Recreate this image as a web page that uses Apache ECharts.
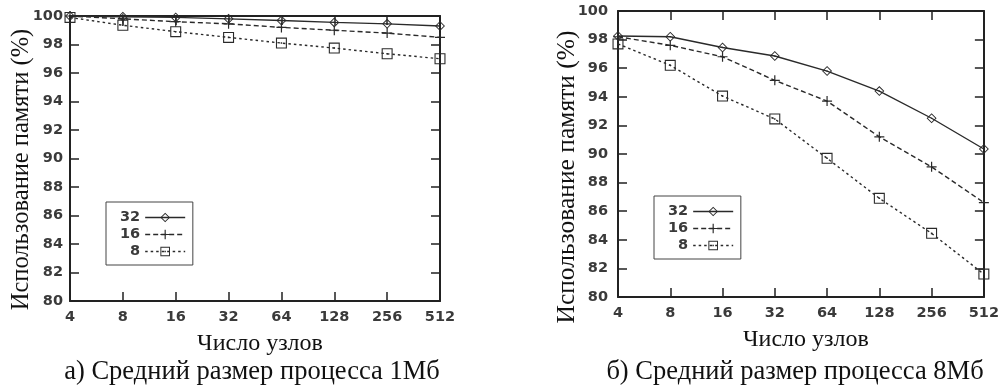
<!DOCTYPE html>
<html>
<head>
<meta charset="utf-8">
<script src="https://cdn.jsdelivr.net/npm/echarts@6/dist/echarts.min.js"></script>
<style>
  html, body { margin: 0; padding: 0; background: #fff; }
  #chart { width: 1002px; height: 388px; }
</style>
</head>
<body>
<div id="chart"></div>
<script>
// Number of nodes (log2 scale, drawn as evenly spaced categories)
const nodes = ['4', '8', '16', '32', '64', '128', '256', '512'];
const yTicks = { min: 80, max: 100, step: 2 };

// Memory utilisation (%) — average process size 1 MB
const mb1_32 = [100, 99.95, 99.9, 99.8, 99.68, 99.55, 99.45, 99.3];
const mb1_16 = [100, 99.8, 99.6, 99.45, 99.2, 99.0, 98.8, 98.5];
const mb1_8  = [99.9, 99.35, 98.9, 98.5, 98.1, 97.75, 97.35, 97.0];

// Memory utilisation (%) — average process size 8 MB
const mb8_32 = [98.25, 98.2, 97.45, 96.85, 95.8, 94.4, 92.5, 90.35];
const mb8_16 = [98.2, 97.6, 96.8, 95.15, 93.7, 91.2, 89.1, 86.6];
const mb8_8  = [97.7, 96.2, 94.05, 92.45, 89.7, 86.9, 84.45, 81.6];

const seriesNames = ['32', '16', '8'];
const yName = 'Использование памяти (%)';
const xName = 'Число узлов';
const captions = ['а) Средний размер процесса 1Мб', 'б) Средний размер процесса 8Мб'];

// gnuplot-like point shapes
const DIAMOND = 'path://M5,0L10,5L5,10L0,5Z M5,1.3L1.3,5L5,8.7L8.7,5Z M4.4,4.4H5.6V5.6H4.4Z';
const PLUS = 'path://M0,4.4H10V5.6H0Z M4.4,0H5.6V10H4.4Z';
const BOX = 'path://M0,0H10V10H0Z M1,1V9H9V1Z M4.3,4.3H5.7V5.7H4.3Z';

const INK = '#222';
const LABEL = '#3a3a3a';
const serif = '"Liberation Serif", "DejaVu Serif", serif';
const sans = '"DejaVu Sans", sans-serif';

const styles = [
  { symbol: DIAMOND, size: 10, type: 'solid' },
  { symbol: PLUS, size: 10, type: [5, 3] },
  { symbol: BOX, size: 11, type: [2.5, 3] }
];

const grids = [
  { left: 70, top: 16, width: 370, height: 285 },
  { left: 618, top: 11, width: 369, height: 286 }
];

function xAxes(gi) {
  return [
    {
      type: 'category', gridIndex: gi, data: nodes, boundaryGap: false, position: 'bottom',
      axisLine: { lineStyle: { color: INK, width: 2 } },
      axisTick: { inside: true, length: 9, lineStyle: { color: INK, width: 1.5 } },
      axisLabel: { color: LABEL, fontFamily: sans, fontWeight: 'bold', fontSize: 14.5, margin: 9 },
      splitLine: { show: false },
      name: xName, nameLocation: 'middle', nameGap: 31, nameMoveOverlap: false,
      nameTextStyle: { fontFamily: serif, fontSize: 24, color: '#111', padding: [0, 0, 0, 10] }
    },
    {
      type: 'category', gridIndex: gi, data: nodes, boundaryGap: false, position: 'top',
      axisLine: { lineStyle: { color: INK, width: 2 } },
      axisTick: { inside: true, length: 9, lineStyle: { color: INK, width: 1.5 } },
      axisLabel: { show: false },
      splitLine: { show: false }
    }
  ];
}

function yAxes(gi, gap, pad, labelMargin, fs) {
  return [
    {
      type: 'value', gridIndex: gi, position: 'left',
      min: yTicks.min, max: yTicks.max, interval: yTicks.step,
      axisLine: { show: true, lineStyle: { color: INK, width: 2 } },
      axisTick: { show: true, inside: true, length: 9, lineStyle: { color: INK, width: 1.5 } },
      axisLabel: { color: LABEL, fontFamily: sans, fontWeight: 'bold', fontSize: 14.5, margin: labelMargin },
      splitLine: { show: false },
      name: yName, nameLocation: 'middle', nameRotate: 90, nameGap: gap, nameMoveOverlap: false,
      nameTextStyle: { fontFamily: serif, fontSize: fs, color: '#111', padding: pad }
    },
    {
      type: 'value', gridIndex: gi, position: 'right',
      min: yTicks.min, max: yTicks.max, interval: yTicks.step,
      axisLine: { show: true, lineStyle: { color: INK, width: 2 } },
      axisTick: { show: true, inside: true, length: 9, lineStyle: { color: INK, width: 1.5 } },
      axisLabel: { show: false },
      splitLine: { show: false }
    }
  ];
}

function makeSeries(gi, valuesList) {
  return valuesList.map((vals, i) => ({
    name: seriesNames[i],
    type: 'line',
    xAxisIndex: gi * 2,
    yAxisIndex: gi * 2,
    data: vals,
    symbol: styles[i].symbol,
    symbolSize: styles[i].size,
    clip: false,
    lineStyle: { color: '#2a2a2a', width: 1.4, type: styles[i].type },
    itemStyle: { color: '#2a2a2a' },
    emphasis: { disabled: true },
    z: 3 - i
  }));
}

function makeLegend(left, top) {
  return {
    orient: 'vertical', left: left, top: top, align: 'right',
    data: seriesNames,
    itemWidth: 40, itemHeight: 12, itemGap: 2,
    padding: [8, 7, 6, 14],
    borderColor: '#444', borderWidth: 1,
    backgroundColor: '#fff',
    textStyle: { fontFamily: sans, fontWeight: 'bold', fontSize: 14.5, color: LABEL, lineHeight: 12 },
    lineStyle: { width: 1.3 },
    selectedMode: false
  };
}

const captionStyle = { fontFamily: serif, fontSize: 26.5, fontWeight: 'normal', color: '#111', lineHeight: 28 };

const chart = echarts.init(document.getElementById('chart'), null, { renderer: 'canvas' });
chart.setOption({
  animation: false,
  backgroundColor: '#fff',
  title: [
    { text: captions[0], left: 252, top: 358, padding: 0, textAlign: 'center', textStyle: captionStyle },
    { text: captions[1], left: 795, top: 358, padding: 0, textAlign: 'center', textStyle: captionStyle }
  ],
  grid: grids,
  xAxis: [...xAxes(0), ...xAxes(1)],
  yAxis: [...yAxes(0, 36, [0, 22, 0, 0], 7, 24.5), ...yAxes(1, 38, [0, 46, 0, 0], 10, 25.5)],
  legend: [makeLegend(106, 202), makeLegend(654, 196)],
  series: [...makeSeries(0, [mb1_32, mb1_16, mb1_8]), ...makeSeries(1, [mb8_32, mb8_16, mb8_8])]
});
</script>
</body>
</html>
